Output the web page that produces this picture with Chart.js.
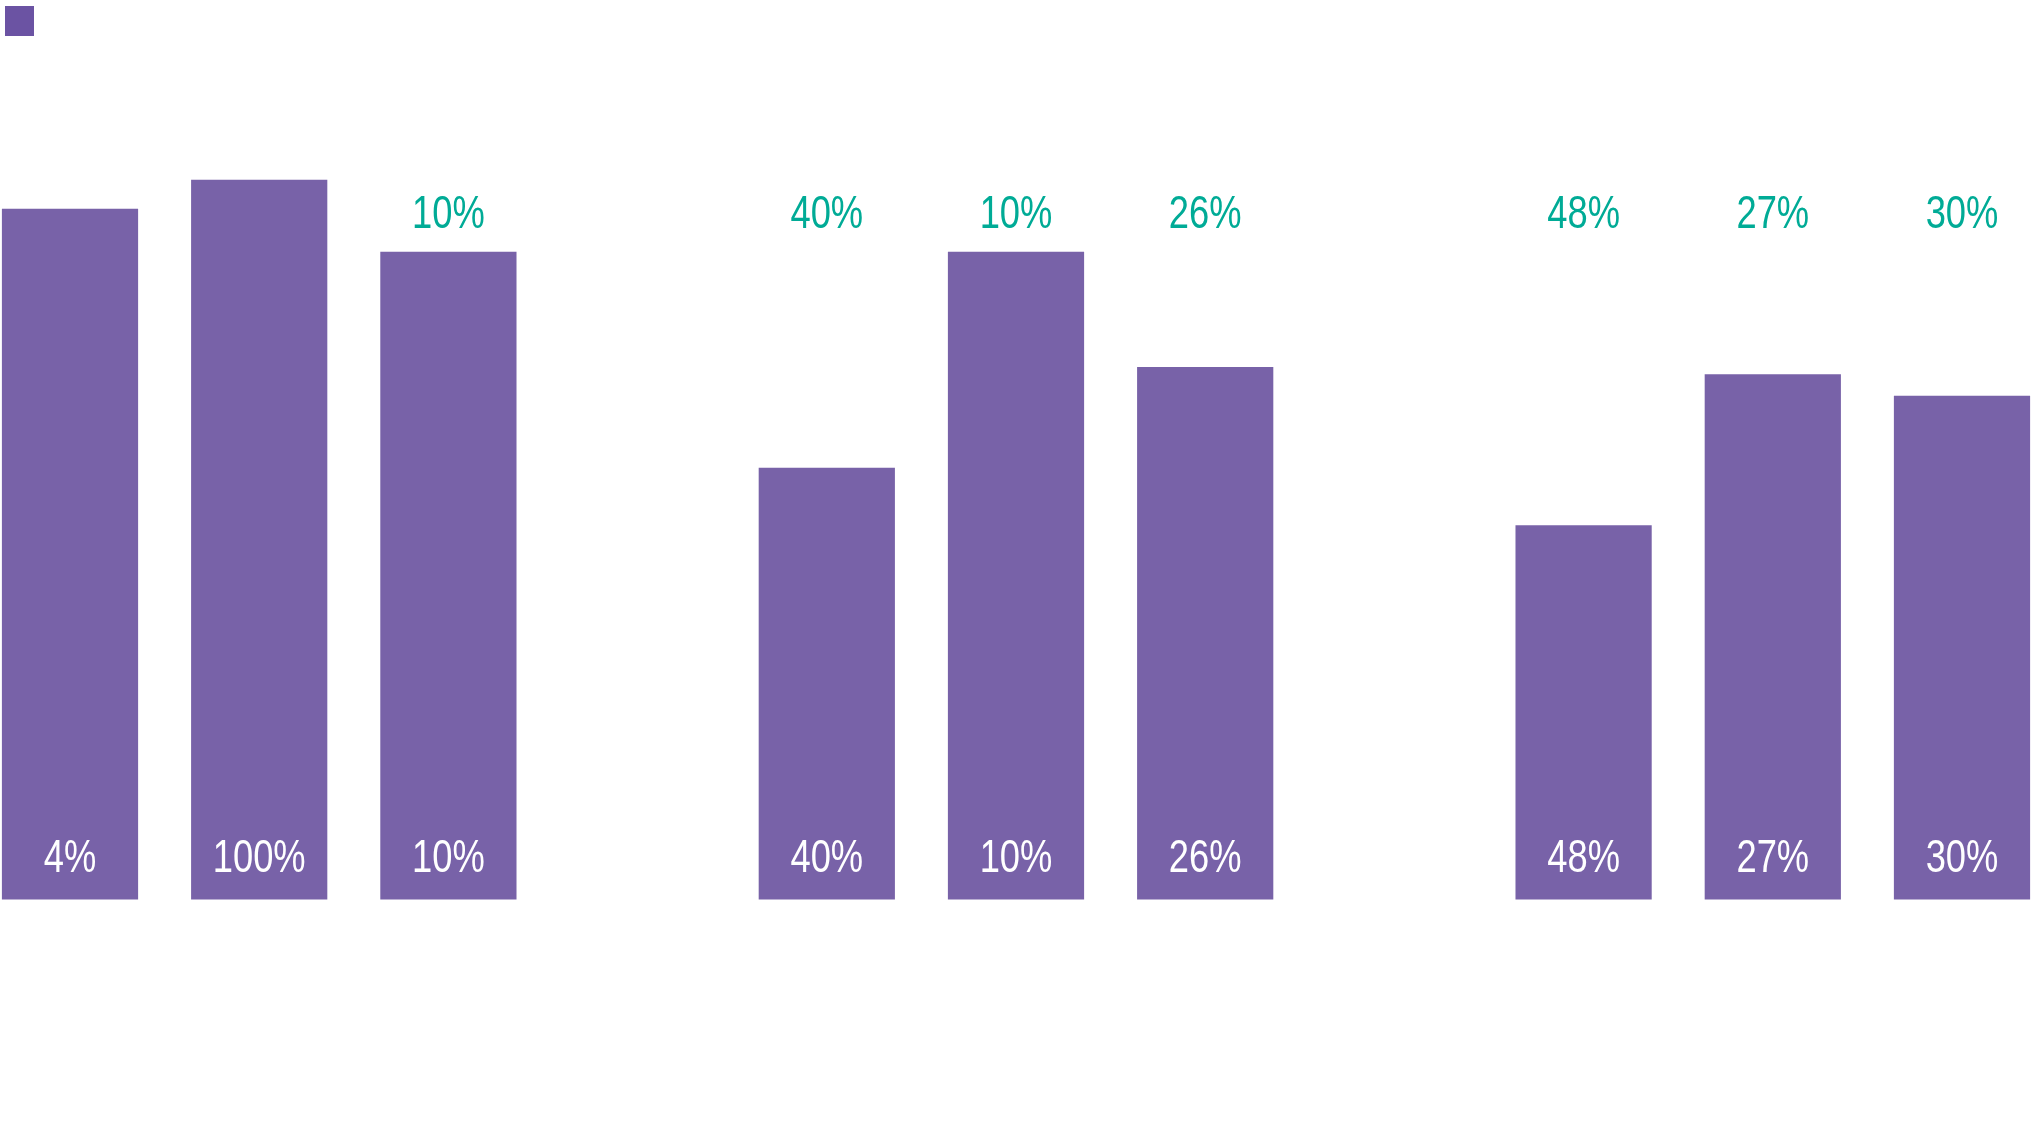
<!DOCTYPE html>
<html>
<head>
<meta charset="utf-8">
<script src="https://cdn.jsdelivr.net/npm/chart.js@4/dist/chart.umd.min.js"></script>
<style>
  html, body { margin: 0; padding: 0; background: #ffffff; }
  #wrap { width: 2032px; height: 1133px; }
</style>
</head>
<body>
<div id="wrap"><canvas id="c" width="2032" height="1133"></canvas></div>
<script>
// ---- data ----
const categories = ['G1-1', 'G1-2', 'G1-3', '', 'G2-1', 'G2-2', 'G2-3', '', 'G3-1', 'G3-2', 'G3-3'];
const barValues  = [96, 100, 90, null, 60, 90, 74, null, 52, 73, 70];
const pctLabels  = ['4%', '100%', '10%', null, '40%', '10%', '26%', null, '48%', '27%', '30%'];
const yMax = 118.6;

const BAR_COLOR = '#7862a8';
const LEGEND_COLOR = '#6b53a3';
const GREEN = '#00ab96';
const FONT = "'Liberation Sans', Arial, sans-serif";
const NARROW = 0.79; // horizontal condensing of the label face

function drawNarrow(ctx, txt, x, y) {
  ctx.save();
  ctx.translate(x, y);
  ctx.scale(NARROW, 1);
  ctx.fillText(txt, 0, 0);
  ctx.restore();
}

const labelPlugin = {
  id: 'pctLabels',
  afterDatasetsDraw(chart) {
    const ctx = chart.ctx;
    const meta = chart.getDatasetMeta(0);
    const area = chart.chartArea;
    const greenBase = area.top + 182;
    ctx.save();
    ctx.font = '46px ' + FONT;
    ctx.textAlign = 'center';
    ctx.textBaseline = 'alphabetic';
    meta.data.forEach((bar, i) => {
      const txt = pctLabels[i];
      if (barValues[i] == null || txt == null) return;
      // white label inside the bar, near its base
      ctx.fillStyle = '#ffffff';
      drawNarrow(ctx, txt, bar.x, bar.base - 27.5);
      // teal label above, only where the bar leaves room for it
      if (bar.y > greenBase + 8) {
        ctx.fillStyle = GREEN;
        drawNarrow(ctx, txt, bar.x, greenBase);
      }
    });
    ctx.restore();
  }
};

new Chart(document.getElementById('c'), {
  type: 'bar',
  data: {
    datasets: [{
      label: '',
      data: barValues.map((v, i) => ({ x: i, y: v })),
      backgroundColor: BAR_COLOR,
      borderWidth: 0,
      clip: false
    }]
  },
  options: {
    responsive: false,
    devicePixelRatio: 1,
    animation: false,
    layout: { padding: { top: 1, left: 0, right: 0, bottom: 233.5 } },
    scales: {
      x: {
        type: 'linear',
        display: false,
        min: -0.37,
        max: categories.length - 1 + 0.37,
        offset: false,
        ticks: { stepSize: 1, includeBounds: false },
        grid: { display: false }
      },
      y: {
        display: false,
        min: 0,
        max: yMax,
        grid: { display: false }
      }
    },
    plugins: {
      legend: {
        display: true,
        position: 'top',
        align: 'start',
        labels: {
          boxWidth: 29,
          boxHeight: 30,
          padding: 5,
          font: { size: 14, family: FONT },
          generateLabels() {
            return [{ text: '', fillStyle: LEGEND_COLOR, strokeStyle: 'rgba(0,0,0,0)', lineWidth: 0, datasetIndex: 0, hidden: false }];
          }
        }
      },
      tooltip: { enabled: false }
    }
  },
  plugins: [labelPlugin]
});
</script>
</body>
</html>
